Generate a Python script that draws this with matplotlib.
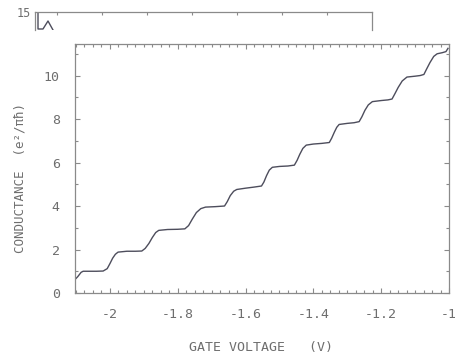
import matplotlib
matplotlib.use("Agg")
import matplotlib.pyplot as plt
from matplotlib.ticker import MultipleLocator, FixedLocator

# ---- data ----
gate_voltage = [
    -2.103, -2.095, -2.085, -2.079,
    -2.060, -2.040, -2.020,
    -2.008, -2.000, -1.992, -1.984, -1.976,
    -1.950, -1.925, -1.906,
    -1.896, -1.885, -1.875, -1.865, -1.856,
    -1.830, -1.800, -1.779,
    -1.768, -1.757, -1.745, -1.732, -1.718,
    -1.690, -1.662,
    -1.654, -1.645, -1.635, -1.626,
    -1.600, -1.575, -1.553,
    -1.546, -1.538, -1.530, -1.521,
    -1.500, -1.475, -1.456,
    -1.448, -1.440, -1.431, -1.421,
    -1.400, -1.375, -1.353,
    -1.346, -1.338, -1.331, -1.324,
    -1.300, -1.280, -1.265,
    -1.257, -1.248, -1.238, -1.226,
    -1.200, -1.180, -1.168,
    -1.160, -1.150, -1.138, -1.124,
    -1.100, -1.085, -1.074,
    -1.066, -1.056, -1.045, -1.035,
    -1.020, -1.009, -1.003,
]
conductance = [
    0.62, 0.75, 0.95, 1.00,
    1.00, 1.00, 1.01,
    1.12, 1.35, 1.60, 1.78, 1.88,
    1.92, 1.92, 1.93,
    2.05, 2.28, 2.55, 2.78, 2.88,
    2.92, 2.93, 2.95,
    3.10, 3.40, 3.70, 3.88, 3.95,
    3.97, 4.00,
    4.20, 4.48, 4.68, 4.76,
    4.82, 4.87, 4.92,
    5.10, 5.40, 5.65, 5.78,
    5.82, 5.84, 5.88,
    6.10, 6.38, 6.65, 6.80,
    6.85, 6.88, 6.92,
    7.12, 7.40, 7.62, 7.75,
    7.80, 7.83, 7.88,
    8.10, 8.40, 8.65, 8.80,
    8.85, 8.88, 8.92,
    9.15, 9.45, 9.75, 9.93,
    9.97, 10.00, 10.05,
    10.30, 10.60, 10.88, 11.00,
    11.05, 11.10, 11.25,
]
x_ticks = [-2.0, -1.8, -1.6, -1.4, -1.2, -1.0]
x_tick_labels = ["-2", "-1.8", "-1.6", "-1.4", "-1.2", "-1"]
y_ticks = [0, 2, 4, 6, 8, 10]
y_tick_labels = ["0", "2", "4", "6", "8", "10"]

# fragment of the neighbouring panel visible at the top of the scan
top_panel_x = [3, 3, 8, 13, 18]
top_panel_y = [15, -2, -2, 6, -3]
top_panel_ticks = [22, 67, 112, 157, 202, 247, 292]

TXT = "#6e6e6e"
AX = "#8a8a8a"
LINE = "#4d4d5c"
FONT = "DejaVu Sans Mono"

plt.rcParams["font.family"] = [FONT, "DejaVu Sans"]

W, H = 456, 360
fig = plt.figure(figsize=(W / 100, H / 100), dpi=100)
fig.patch.set_facecolor("white")

# ---- main axes ----
left, right, top, bottom = 75, 449, 44, 293
ax = fig.add_axes([left / W, (H - bottom) / H, (right - left) / W, (bottom - top) / H])
ax.plot(gate_voltage, conductance, color=LINE, lw=1.0)
ax.set_xlim(-2.103, -1.0)
ax.set_ylim(0, 11.45)

ax.xaxis.set_major_locator(FixedLocator(x_ticks))
ax.set_xticklabels(x_tick_labels)
ax.xaxis.set_minor_locator(MultipleLocator(0.025))
ax.yaxis.set_major_locator(FixedLocator(y_ticks))
ax.set_yticklabels(y_tick_labels)
ax.yaxis.set_minor_locator(MultipleLocator(1))

ax.tick_params(which="both", direction="in", top=True, right=True,
               color=AX, width=0.8)
ax.tick_params(which="major", length=3.5)
ax.tick_params(which="minor", length=2.2)
ax.tick_params(axis="x", which="major", pad=11, labelsize=9.5, labelcolor=TXT)
ax.tick_params(axis="y", which="major", pad=11, labelsize=9.5, labelcolor=TXT)
for s in ax.spines.values():
    s.set_color(AX)
    s.set_linewidth(0.9)

fig.text(261 / W, (H - 348) / H, "GATE VOLTAGE   (V)", ha="center", va="center",
         fontsize=9.5, color=TXT, family=FONT)
fig.text(20 / W, (H - 178) / H, "CONDUCTANCE  (e²/πħ)", ha="center", va="center",
         rotation=90, fontsize=9, color=TXT, family=FONT)

# ---- neighbouring panel fragment at top ----
ax2 = fig.add_axes([35 / W, (H - 30) / H, (372 - 35) / W, 18 / H])
ax2.plot(top_panel_x, top_panel_y, color=LINE, lw=1.0)
ax2.set_xlim(0, 337)
ax2.set_ylim(-3, 15)
ax2.spines["bottom"].set_visible(False)
for s in ["top", "left", "right"]:
    ax2.spines[s].set_color(AX)
    ax2.spines[s].set_linewidth(0.9)
ax2.set_yticks([15])
ax2.set_yticklabels(["15"])
ax2.xaxis.set_ticks_position("top")
ax2.set_xticks(top_panel_ticks)
ax2.set_xticklabels([])
ax2.tick_params(axis="x", direction="in", length=2.5, color=AX)
ax2.tick_params(axis="y", length=0, pad=3, labelsize=8.5, labelcolor=TXT)
ax2.patch.set_alpha(0)

fig.savefig("out.png", dpi=100)
